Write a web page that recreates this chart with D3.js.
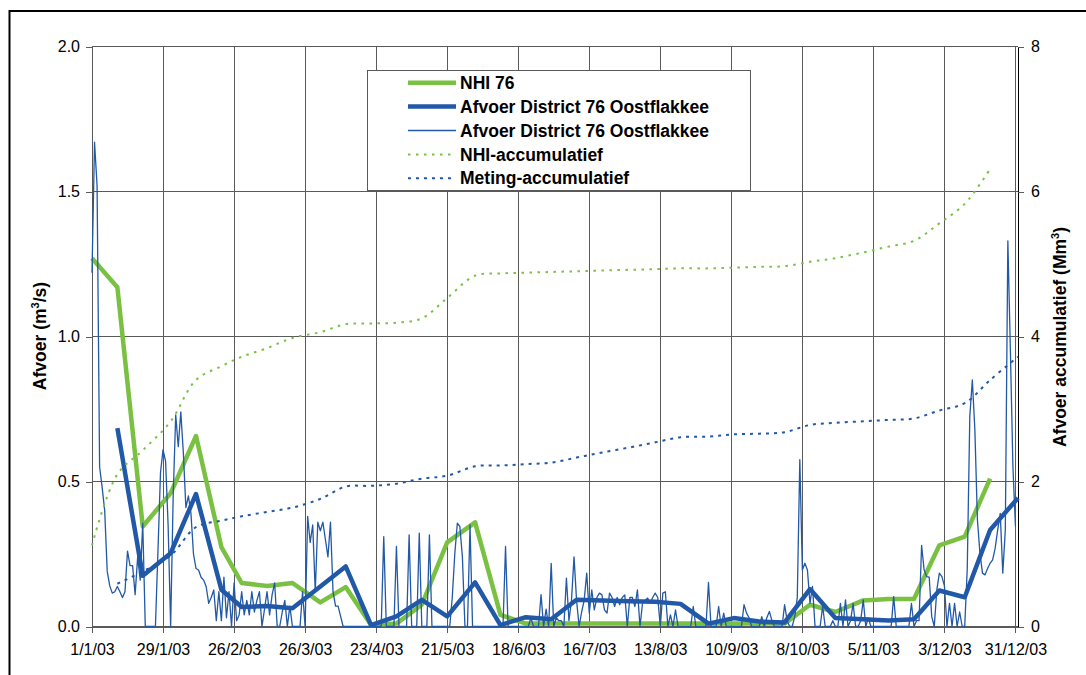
<!DOCTYPE html>
<html lang="nl">
<head>
<meta charset="UTF-8">
<title>Afvoer District 76 Oostflakkee</title>
<script src="https://d3js.org/d3.v7.min.js"></script>
<style>
  body { margin: 0; background: #fff; }
  text { font-family: "Liberation Sans", Arial, sans-serif; fill: #000; }
  .axis text { font-size: 16px; font-family: "Liberation Sans", Arial, sans-serif; }
  .axis path, .axis line { stroke: #5a5a5a; shape-rendering: crispEdges; }
  .grid line { stroke: #5a5a5a; shape-rendering: crispEdges; }
  .title { font-size: 17.5px; font-weight: bold; }
  .legend text { font-size: 17.5px; font-weight: bold; }
</style>
</head>
<body>
<script>
// tick labels
var xTickLabels = ["1/1/03", "29/1/03", "26/2/03", "26/3/03", "23/4/03", "21/5/03", "18/6/03",
  "16/7/03", "13/8/03", "10/9/03", "8/10/03", "5/11/03", "3/12/03", "31/12/03"];
var leftTicks = [0, 0.5, 1, 1.5, 2];
var rightTicks = [0, 2, 4, 6, 8];

// decade dates (10-daagse)
var decadeDates = ["2003-01-01", "2003-01-11", "2003-01-21", "2003-02-01", "2003-02-11", "2003-02-21",
  "2003-03-01", "2003-03-11", "2003-03-21", "2003-04-01", "2003-04-11", "2003-04-21",
  "2003-05-01", "2003-05-11", "2003-05-21", "2003-06-01", "2003-06-11", "2003-06-21",
  "2003-07-01", "2003-07-11", "2003-07-21", "2003-08-01", "2003-08-11", "2003-08-21",
  "2003-09-01", "2003-09-11", "2003-09-21", "2003-10-01", "2003-10-11", "2003-10-21",
  "2003-11-01", "2003-11-11", "2003-11-21", "2003-12-01", "2003-12-11", "2003-12-21", "2004-01-01"];

// m3/s per decade
var nhi = [1.27, 1.17, 0.345, 0.46, 0.657, 0.274, 0.15, 0.14, 0.15, 0.083, 0.136, 0.005,
  0.01, 0.075, 0.29, 0.359, 0.04, 0.01, 0.01, 0.01, 0.01, 0.01, 0.01, 0.01,
  0.01, 0.01, 0.01, 0.01, 0.075, 0.05, 0.09, 0.095, 0.095, 0.28, 0.31, 0.51, null];
var districtDecade = [null, 0.684, 0.175, 0.253, 0.457, 0.127, 0.067, 0.071, 0.063, 0.138, 0.207, 0.005,
  0.035, 0.092, 0.035, 0.152, 0.005, 0.032, 0.025, 0.092, 0.09, 0.087, 0.085, 0.078,
  0.01, 0.029, 0.017, 0.014, 0.129, 0.029, 0.025, 0.021, 0.025, 0.124, 0.101, 0.333, 0.443];

// Mm3 cumulative
var nhiAccum = [1.12, 2.1, 2.43, 2.83, 3.40, 3.59, 3.72, 3.84, 3.98, 4.06, 4.17, 4.18,
  4.19, 4.25, 4.53, 4.84, 4.87, 4.88, 4.89, 4.90, 4.91, 4.92, 4.93, 4.94,
  4.94, 4.95, 4.96, 4.97, 5.03, 5.08, 5.16, 5.24, 5.32, 5.56, 5.83, 6.31, null];
var metingAccum = [null, 0.59, 0.76, 0.98, 1.37, 1.46, 1.52, 1.58, 1.64, 1.76, 1.93, 1.94,
  1.97, 2.04, 2.08, 2.21, 2.22, 2.24, 2.26, 2.33, 2.40, 2.47, 2.54, 2.61,
  2.62, 2.65, 2.66, 2.68, 2.78, 2.81, 2.83, 2.85, 2.87, 2.98, 3.08, 3.40, 3.72];

// daily measurements from 1/1/03 (m3/s)
var dailyStart = "2003-01-01";
var districtDaily = [
  // jan
  1.22, 1.67, 1.52, 0.55, 0.48, 0.40, 0.19, 0.14, 0.115, 0.12,
  0.138, 0.12, 0.10, 0.12, 0.26, 0.21, 0.21, 0.11, 0.24, 0.16,
  0.356, 0, 0, 0, 0, 0, 0.26, 0.53, 0.61, 0.57, 0.35,
  // feb
  0, 0.45, 0.73, 0.62, 0.74, 0.60, 0.41, 0.45, 0.39, 0.25,
  0.20, 0.195, 0.17, 0.16, 0.138, 0.08, 0.10, 0.126, 0.02, 0.12,
  0.02, 0.17, 0.03, 0.12, 0, 0.15, 0.02, 0.04,
  // mar
  0.12, 0.04, 0.09, 0.04, 0.12, 0.05, 0.09, 0.12, 0, 0.06,
  0.12, 0.04, 0.11, 0.15, 0, 0, 0.05, 0.09, 0, 0.07,
  0, 0, 0, 0, 0.12, 0, 0.38, 0.29, 0.35, 0.12, 0.36,
  // apr
  0.33, 0.36, 0.30, 0.24, 0.36, 0.12, 0.07, 0.07, 0.035, 0,
  0, 0, 0, 0, 0, 0, 0, 0, 0, 0,
  0, 0, 0, 0, 0, 0.31, 0, 0, 0, 0,
  // may
  0.276, 0, 0, 0, 0, 0.316, 0, 0, 0, 0.322,
  0, 0, 0, 0.316, 0, 0, 0, 0, 0, 0,
  0, 0, 0.10, 0.25, 0.356, 0.345, 0.24, 0, 0, 0.35, 0,
  // jun
  0, 0, 0, 0, 0, 0, 0, 0, 0, 0,
  0, 0, 0.276, 0, 0, 0, 0, 0, 0, 0,
  0, 0, 0.03, 0, 0, 0, 0.11, 0, 0.06, 0,
  // jul
  0.218, 0, 0.03, 0.02, 0.02, 0, 0.167, 0.02, 0.09, 0.24,
  0.09, 0, 0.05, 0.09, 0.184, 0.046, 0.126, 0.057, 0.10, 0.115,
  0.109, 0.057, 0.046, 0.115, 0.10, 0.069, 0.10, 0.075, 0.10, 0.109, 0,
  // aug
  0.10, 0.10, 0.069, 0.126, 0, 0.08, 0.09, 0.098, 0.08, 0.10,
  0.115, 0.10, 0, 0.115, 0.12, 0, 0.04, 0, 0.057, 0,
  0, 0, 0, 0, 0, 0.069, 0, 0, 0, 0, 0,
  // sep
  0.152, 0, 0, 0, 0.069, 0, 0.046, 0, 0, 0,
  0, 0, 0, 0, 0.075, 0.046, 0.03, 0, 0, 0,
  0, 0.034, 0, 0.03, 0.052, 0.02, 0, 0, 0, 0,
  // oct
  0.075, 0.02, 0, 0, 0.034, 0.10, 0.575, 0.195, 0.218, 0.195,
  0.08, 0.138, 0, 0, 0, 0.069, 0, 0, 0, 0.02,
  0, 0, 0.08, 0, 0.092, 0, 0.02, 0.08, 0, 0, 0.02,
  // nov
  0.092, 0, 0.03, 0, 0, 0, 0, 0, 0, 0,
  0, 0, 0.103, 0, 0, 0, 0, 0, 0, 0.08,
  0, 0.02, 0.02, 0.28, 0.195, 0.172, 0.17, 0.034, 0, 0.126,
  // dec
  0.184, 0.172, 0.14, 0, 0.08, 0, 0.08, 0, 0.05, 0,
  0, 0.2, 0.724, 0.85, 0.678, 0.368, 0.253, 0.184, 0.178, 0.20,
  0.218, 0.23, 0.27, 0.333, 0.39, 0.184, 0.333, 1.33, 0.95, 0.55, 0.345
];

var green = "#7ac143", blue = "#2158a7";
var W = 1086, H = 675;
var plotLeft = 92, plotRight = 1018, plotTop = 46.5, plotBottom = 626.5;

var parseIso = d3.utcParse("%Y-%m-%d");
var parseTick = d3.utcParse("%d/%m/%y");

var x = d3.scaleUtc()
  .domain([parseIso("2003-01-01"), parseIso("2004-01-01")])
  .range([plotLeft, plotRight]);
var y = d3.scaleLinear().domain([0, 2]).range([plotBottom, plotTop]);
var yR = d3.scaleLinear().domain([0, 8]).range([plotBottom, plotTop]);

var tickDates = xTickLabels.map(parseTick);

var svg = d3.select("body").append("svg")
  .attr("width", W)
  .attr("height", H);

// outer frame
svg.append("rect")
  .attr("x", 9.5).attr("y", 11)
  .attr("width", 1200).attr("height", 800)
  .attr("fill", "none").attr("stroke", "#000").attr("stroke-width", 2);

// grid
var grid = svg.append("g").attr("class", "grid");
grid.selectAll(".v").data(tickDates).enter().append("line")
  .attr("x1", function(d) { return x(d); }).attr("x2", function(d) { return x(d); })
  .attr("y1", plotTop).attr("y2", plotBottom);
grid.selectAll(".h").data(leftTicks).enter().append("line")
  .attr("x1", plotLeft).attr("x2", plotRight)
  .attr("y1", function(d) { return y(d); }).attr("y2", function(d) { return y(d); });

// axes
svg.append("g")
  .attr("class", "axis")
  .attr("transform", "translate(" + plotLeft + ",0)")
  .call(d3.axisLeft(y).tickValues(leftTicks).tickSize(6).tickSizeOuter(0).tickPadding(6)
    .tickFormat(d3.format(".1f")));

svg.append("g")
  .attr("class", "axis")
  .attr("transform", "translate(0," + plotBottom + ")")
  .call(d3.axisBottom(x).tickValues(tickDates).tickSize(6).tickSizeOuter(0).tickPadding(11)
    .tickFormat(function(d, i) { return xTickLabels[i]; }));

var rAxis = svg.append("g")
  .attr("class", "axis")
  .attr("transform", "translate(" + plotRight + ",0)")
  .call(d3.axisRight(yR).tickValues(rightTicks).tickSize(6).tickSizeOuter(0).tickPadding(7));
rAxis.select(".domain").style("stroke", "#000");

// axis titles
svg.append("text")
  .attr("class", "title")
  .attr("transform", "translate(46,336) rotate(-90)")
  .attr("text-anchor", "middle")
  .html('Afvoer (m<tspan dy="-7" font-size="11">3</tspan><tspan dy="7">/s)</tspan>');

svg.append("text")
  .attr("class", "title")
  .attr("transform", "translate(1066,337) rotate(-90)")
  .attr("text-anchor", "middle")
  .html('Afvoer accumulatief (Mm<tspan dy="-7" font-size="11">3</tspan><tspan dy="7">)</tspan>');

// series
function decadeSeries(vals) {
  return decadeDates.map(function(d, i) { return { date: parseIso(d), v: vals[i] }; });
}
var start = parseIso(dailyStart);
var daily = districtDaily.map(function(v, i) { return { date: d3.utcDay.offset(start, i), v: v }; });

var lineL = d3.line()
  .defined(function(d) { return d.v != null; })
  .x(function(d) { return x(d.date); })
  .y(function(d) { return y(d.v); });
var lineR = d3.line()
  .defined(function(d) { return d.v != null; })
  .curve(d3.curveCatmullRom.alpha(0.5))
  .x(function(d) { return x(d.date); })
  .y(function(d) { return yR(d.v); });

var plot = svg.append("g").attr("fill", "none").attr("stroke-linejoin", "round");

plot.append("path").datum(decadeSeries(nhi))
  .attr("d", lineL).attr("stroke", green).attr("stroke-width", 4.5);
plot.append("path").datum(decadeSeries(districtDecade))
  .attr("d", lineL).attr("stroke", blue).attr("stroke-width", 4.5);
plot.append("path").datum(daily)
  .attr("d", lineL).attr("stroke", blue).attr("stroke-width", 1.3);
plot.append("path").datum(decadeSeries(nhiAccum))
  .attr("d", lineR).attr("stroke", green).attr("stroke-width", 2).attr("stroke-dasharray", "2.5,5.5");
plot.append("path").datum(decadeSeries(metingAccum))
  .attr("d", lineR).attr("stroke", blue).attr("stroke-width", 2).attr("stroke-dasharray", "3,5");

// legend
var legendItems = [
  { name: "NHI 76", color: green, width: 4.5, dash: null },
  { name: "Afvoer District 76 Oostflakkee", color: blue, width: 4.5, dash: null },
  { name: "Afvoer District 76 Oostflakkee", color: blue, width: 1.3, dash: null },
  { name: "NHI-accumulatief", color: green, width: 2, dash: "2.5,5.5" },
  { name: "Meting-accumulatief", color: blue, width: 2, dash: "3,5" }
];
var legend = svg.append("g").attr("class", "legend");
legend.append("rect")
  .attr("x", 367.5).attr("y", 70.5)
  .attr("width", 383).attr("height", 120)
  .attr("fill", "#fff").attr("stroke", "#5a5a5a");
var rows = legend.selectAll(".row").data(legendItems).enter().append("g")
  .attr("transform", function(d, i) { return "translate(0," + (82.7 + i * 23.9) + ")"; });
rows.append("line")
  .attr("x1", 408).attr("x2", 456)
  .attr("stroke", function(d) { return d.color; })
  .attr("stroke-width", function(d) { return d.width; })
  .attr("stroke-dasharray", function(d) { return d.dash; });
rows.append("text")
  .attr("x", 460).attr("dy", "0.35em")
  .text(function(d) { return d.name; });
</script>
</body>
</html>
